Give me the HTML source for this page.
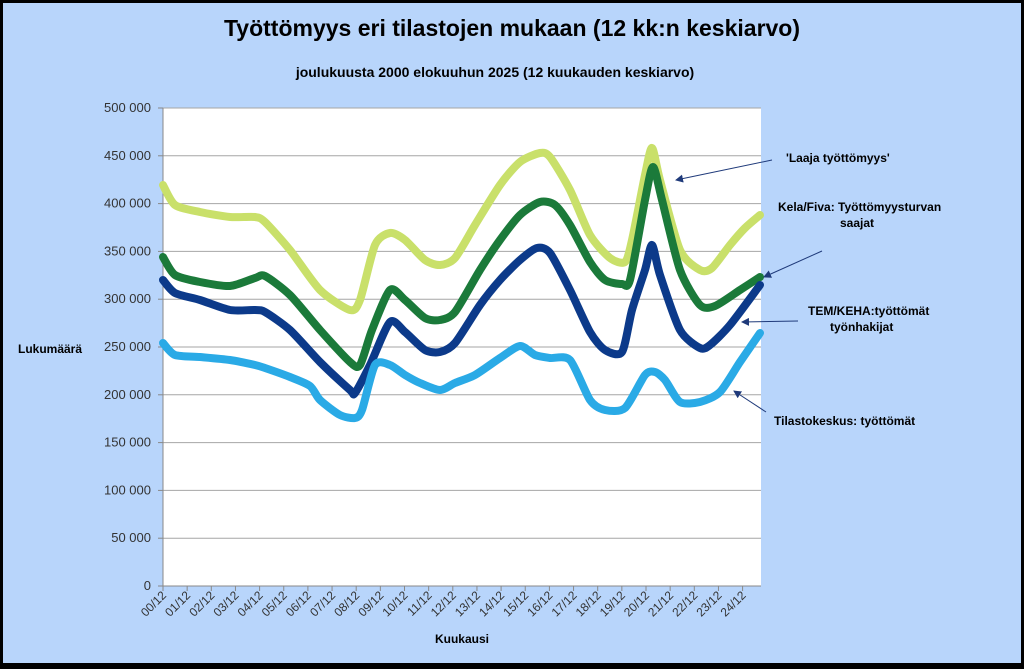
<!DOCTYPE html>
<html><head><meta charset="utf-8"><style>
body{margin:0;}
svg{display:block;font-family:"Liberation Sans",Arial,sans-serif;}
</style></head><body>
<svg id="s" width="1024" height="669" viewBox="0 0 1024 669">
<rect x="0" y="0" width="1024" height="669" fill="#000"/>
<rect x="3" y="3" width="1018" height="660" fill="#b8d5fb"/>
<text x="512" y="36" text-anchor="middle" font-size="23" font-weight="bold">Työttömyys eri tilastojen mukaan (12 kk:n keskiarvo)</text>
<text x="495" y="77" text-anchor="middle" font-size="14" font-weight="bold">joulukuusta 2000 elokuuhun 2025 (12 kuukauden keskiarvo)</text>
<rect x="163" y="108" width="598" height="478" fill="#fff"/>
<g id="grid" stroke="#a6a6a6" stroke-width="1"></g>
<g id="ylab" font-size="13" fill="#333" text-anchor="end"></g>
<g id="xlab" font-size="12" fill="#333"></g>
<line x1="163" y1="108" x2="163" y2="586" stroke="#888"/>
<line x1="163" y1="586" x2="761" y2="586" stroke="#888"/>
<g id="series" fill="none" stroke-linejoin="round" stroke-linecap="round"></g>
<text x="18" y="353" font-size="12" font-weight="bold">Lukumäärä</text>
<text x="462" y="643" text-anchor="middle" font-size="12" font-weight="bold">Kuukausi</text>
<g font-size="12" font-weight="bold">
<text x="786" y="162">'Laaja  työttömyys'</text>
<text x="778" y="211">Kela/Fiva: Työttömyysturvan</text>
<text x="840" y="227">saajat</text>
<text x="808" y="315">TEM/KEHA:työttömät</text>
<text x="830" y="331">työnhakijat</text>
<text x="774" y="425">Tilastokeskus:   työttömät</text>
</g>
<defs><marker id="ah" markerWidth="8" markerHeight="8" refX="7" refY="4" orient="auto"><path d="M0,0 L8,4 L0,8 z" fill="#1f3a7a"/></marker></defs>
<g stroke="#1f3a7a" stroke-width="1" marker-end="url(#ah)">
<line x1="772" y1="160" x2="676" y2="180"/>
<line x1="822" y1="251" x2="764" y2="277"/>
<line x1="798" y1="321" x2="742" y2="322"/>
<line x1="766" y1="412" x2="734" y2="391"/>
</g>
</svg>
<script>
var NS="http://www.w3.org/2000/svg";
function el(t,a,p){var e=document.createElementNS(NS,t);for(var k in a)e.setAttribute(k,a[k]);if(p)p.appendChild(e);return e;}
var g=document.getElementById('grid'),yl=document.getElementById('ylab'),xl=document.getElementById('xlab');
for(var i=0;i<=10;i++){var y=586-i*47.8;if(i>0)el('line',{x1:163,x2:761,y1:y,y2:y},g);
el('line',{x1:158,x2:163,y1:y,y2:y,stroke:'#888'},g);
var t=el('text',{x:151,y:y+4},yl);t.textContent=i==0?'0':(i*50)+' 000';}
for(var j=0;j<=24;j++){var x=163+j*24.15;el('line',{x1:x,x2:x,y1:586,y2:591,stroke:'#888'},g);
var t=el('text',{x:0,y:0,'text-anchor':'end',transform:'translate('+(x+4)+',596) rotate(-45)'},xl);
t.textContent=(j<10?'0':'')+j+'/12';}
var S=[
['#c9e06a',[[163,185],[175,205],[200,212],[230,217],[255,217],[265,222],[290,250],[320,290],[350,310],[360,300],[375,245],[390,233],[405,240],[425,260],[440,265],[455,258],[475,225],[500,185],[520,162],[540,153],[550,157],[570,190],[590,235],[610,258],[625,262],[632,240],[645,175],[652,148],[660,180],[680,250],[700,270],[712,268],[730,245],[745,228],[760,215]]],
['#1b7a3a',[[163,257],[175,275],[200,282],[230,286],[255,278],[265,276],[290,295],[320,330],[350,362],[360,365],[372,330],[390,290],[405,300],[425,318],[440,320],[455,312],[480,270],[500,240],[520,215],[540,202],[555,205],[570,225],[590,262],[605,280],[622,284],[630,280],[645,200],[653,167],[662,200],[680,270],[700,305],[715,306],[740,290],[760,277]]],
['#0c3a8a',[[163,280],[175,293],[200,300],[230,310],[255,310],[265,312],[290,330],[320,362],[350,390],[355,393],[370,365],[390,322],[405,332],[425,350],[440,352],[455,343],[480,305],[500,280],[520,260],[537,248],[550,253],[570,290],[590,332],[605,350],[622,352],[632,310],[645,270],[652,245],[660,275],[680,330],[700,348],[710,345],[730,325],[760,285]]],
['#2aaae6',[[163,343],[175,355],[200,357],[230,360],[255,365],[265,368],[290,377],[310,386],[320,400],[340,415],[355,418],[362,410],[375,365],[390,365],[405,375],[420,383],[440,390],[455,383],[475,375],[500,358],[520,346],[535,355],[550,358],[570,360],[590,400],[605,410],[625,408],[645,375],[655,372],[665,380],[680,402],[700,402],[720,392],[740,362],[760,333]]]];
var sg=document.getElementById('series');
S.forEach(function(s){var p=s[1],d='M'+p[0][0]+','+p[0][1];
for(var i=0;i<p.length-1;i++){var a=p[Math.max(0,i-1)],b=p[i],c=p[i+1],e=p[Math.min(p.length-1,i+2)];
d+=' C'+(b[0]+(c[0]-a[0])/8)+','+(b[1]+(c[1]-a[1])/8)+' '+(c[0]-(e[0]-b[0])/8)+','+(c[1]-(e[1]-b[1])/8)+' '+c[0]+','+c[1];}
el('path',{d:d,stroke:s[0],'stroke-width':8},sg);});
</script>
</body></html>
